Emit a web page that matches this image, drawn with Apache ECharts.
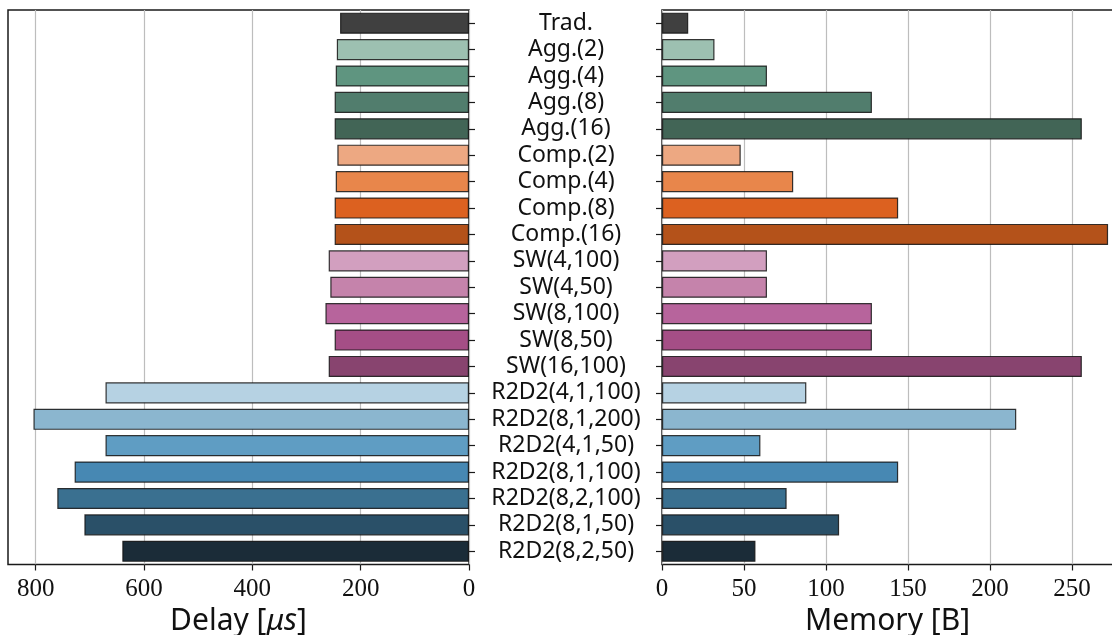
<!DOCTYPE html>
<html>
<head>
<meta charset="utf-8">
<script src="https://cdn.jsdelivr.net/npm/echarts@6/dist/echarts.min.js"></script>
<style>
html,body{margin:0;padding:0;background:#fff;}
#chart{width:1112px;height:635px;}
</style>
</head>
<body>
<div id="chart"></div>
<script>
const categories = ['Trad.','Agg.(2)','Agg.(4)','Agg.(8)','Agg.(16)','Comp.(2)','Comp.(4)','Comp.(8)','Comp.(16)',
  'SW(4,100)','SW(4,50)','SW(8,100)','SW(8,50)','SW(16,100)',
  'R2D2(4,1,100)','R2D2(8,1,200)','R2D2(4,1,50)','R2D2(8,1,100)','R2D2(8,2,100)','R2D2(8,1,50)','R2D2(8,2,50)'];
const delayValues = [238,244,246,248,248,243,246,248,248,259,256,265,248,259,671,804,671,728,760,710,640];
const memoryValues = [16,32,64,128,256,48,80,144,272,64,64,128,128,256,88,216,60,144,76,108,57];
const delayTicks = [0,200,400,600,800];
const memoryTicks = [0,50,100,150,200,250];
const palette = ['#404040','#9dc0b1','#5f9580','#517d6d','#426556','#eda882','#e8864b','#dc6120','#b4521a',
  '#d29fbf','#c583ab','#b7649c','#a54e86','#88446f',
  '#b6d2e3','#8bb6cf','#5f9dc3','#4788b3','#3a7090','#2a5068','#1b2c38'];

const chart = echarts.init(document.getElementById('chart'), null, {renderer:'canvas'});
const tickFont = {fontFamily:'Liberation Serif', fontSize:25, color:'#111'};
const frame = {show:true, borderColor:'#1a1a1a', borderWidth:1.5, backgroundColor:'transparent',
  containLabel:false, outerBoundsMode:'none'};
const barStyle = (vals) => vals.map((v,i)=>({value:v, itemStyle:{color:palette[i]}}));

chart.setOption({
  animation:false,
  backgroundColor:'#fff',
  grid:[
    Object.assign({left:8, top:10, width:461, height:554.5}, frame),
    Object.assign({left:662, top:10, width:451, height:554.5}, frame)
  ],
  xAxis:[
    {type:'value', gridIndex:0, inverse:true, min:0, max:851,
     axisLine:{show:false},
     axisTick:{show:true, length:6, lineStyle:{color:'#1a1a1a', width:1.2}, customValues:delayTicks},
     axisLabel:Object.assign({margin:12, customValues:delayTicks}, tickFont),
     splitLine:{show:true, lineStyle:{color:'#bdbdbd', width:1.2}},
     name:'Delay [{i|μs}]', nameLocation:'middle', nameGap:38,
     nameTextStyle:{fontFamily:'Noto Sans', fontSize:30, color:'#111',
       rich:{i:{fontFamily:'Noto Sans', fontStyle:'italic', fontSize:30, color:'#111'}}}
    },
    {type:'value', gridIndex:1, min:0, max:275,
     axisLine:{show:false},
     axisTick:{show:true, length:6, lineStyle:{color:'#1a1a1a', width:1.2}, customValues:memoryTicks},
     axisLabel:Object.assign({margin:12, customValues:memoryTicks}, tickFont),
     splitLine:{show:true, lineStyle:{color:'#bdbdbd', width:1.2}},
     name:'Memory [B]', nameLocation:'middle', nameGap:38,
     nameTextStyle:{fontFamily:'Noto Sans', fontSize:30, color:'#111'}
    }
  ],
  yAxis:[
    {type:'category', gridIndex:0, data:categories, inverse:true, position:'right',
     axisLine:{show:false},
     axisTick:{show:true, alignWithLabel:true, length:6, lineStyle:{color:'#1a1a1a', width:1.2}},
     axisLabel:{show:false}},
    {type:'category', gridIndex:1, data:categories, inverse:true, position:'left',
     axisLine:{show:false},
     axisTick:{show:true, alignWithLabel:true, length:6, lineStyle:{color:'#1a1a1a', width:1.2}},
     axisLabel:{show:true, align:'center', margin:96, interval:0,
       fontFamily:'Noto Sans', fontSize:23, color:'#111'}}
  ],
  series:[
    {type:'bar', xAxisIndex:0, yAxisIndex:0, barWidth:'80%', data:barStyle(delayValues),
     itemStyle:{borderColor:'rgba(20,20,20,0.85)', borderWidth:1.2}},
    {type:'bar', xAxisIndex:1, yAxisIndex:1, barWidth:'80%', data:barStyle(memoryValues),
     itemStyle:{borderColor:'rgba(20,20,20,0.85)', borderWidth:1.2}}
  ]
});
</script>
</body>
</html>
